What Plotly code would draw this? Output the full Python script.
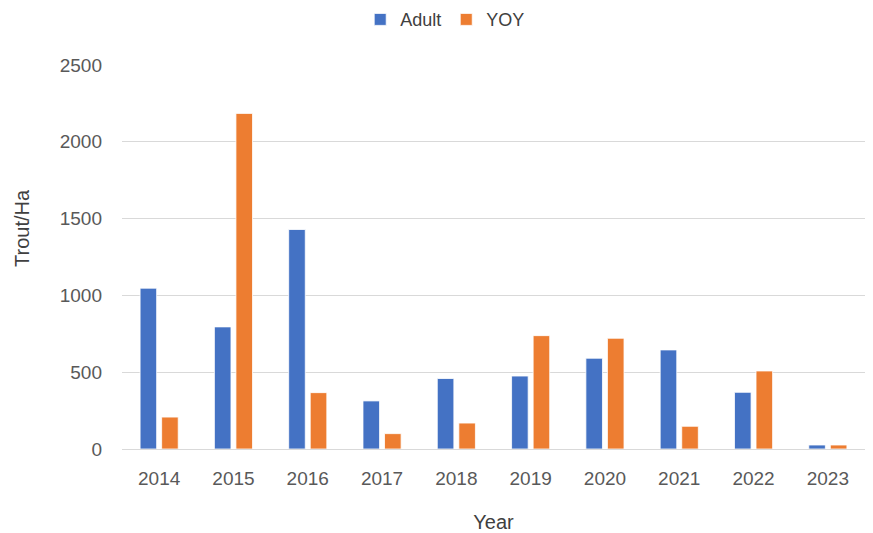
import plotly.graph_objects as go

years = ["2014", "2015", "2016", "2017", "2018", "2019", "2020", "2021", "2022", "2023"]
adult = [1047, 795, 1429, 313, 459, 475, 591, 645, 369, 26]
yoy = [208, 2185, 367, 100, 169, 738, 721, 148, 508, 26]

font_family = "Liberation Sans, Arial, sans-serif"

fig = go.Figure()
fig.add_trace(go.Bar(x=years, y=adult, name="Adult",
                     marker=dict(color="#4472C4", line=dict(color="white", width=0.8))))
fig.add_trace(go.Bar(x=years, y=yoy, name="YOY",
                     marker=dict(color="#ED7D31", line=dict(color="white", width=0.8))))

fig.update_layout(
    width=865, height=525,
    margin=dict(l=114, r=8, t=57, b=84, autoexpand=False),
    paper_bgcolor="white", plot_bgcolor="white",
    barmode="group", bargap=0.42, bargroupgap=0.23,
    font=dict(family=font_family, size=19, color="#595959"),
    legend=dict(orientation="h", x=0.435, xanchor="center", y=1.118, yanchor="middle",
                font=dict(size=18, color="#404040"), itemwidth=30, traceorder="normal",
                borderwidth=0, tracegroupgap=0),
    showlegend=True,
)
fig.update_xaxes(title=dict(text="Year", font=dict(size=20, color="#404040"), standoff=27),
                 showgrid=False, showline=True, linecolor="#D9D9D9", linewidth=1.2,
                 tickfont=dict(size=19, color="#595959"), ticks="", ticklabelstandoff=12)
fig.update_yaxes(range=[0, 2500], dtick=500, showgrid=True, gridcolor="#D9D9D9", gridwidth=1.2,
                 zeroline=False, tickfont=dict(size=19, color="#595959"), ticks="",
                 ticklabelstandoff=19)
fig.add_annotation(text="Trout/Ha", textangle=-90, xref="paper", yref="paper",
                   x=-0.1346, y=0.5755, xanchor="center", yanchor="middle", showarrow=False,
                   font=dict(size=20, color="#404040"))

fig.write_html("out.html")
